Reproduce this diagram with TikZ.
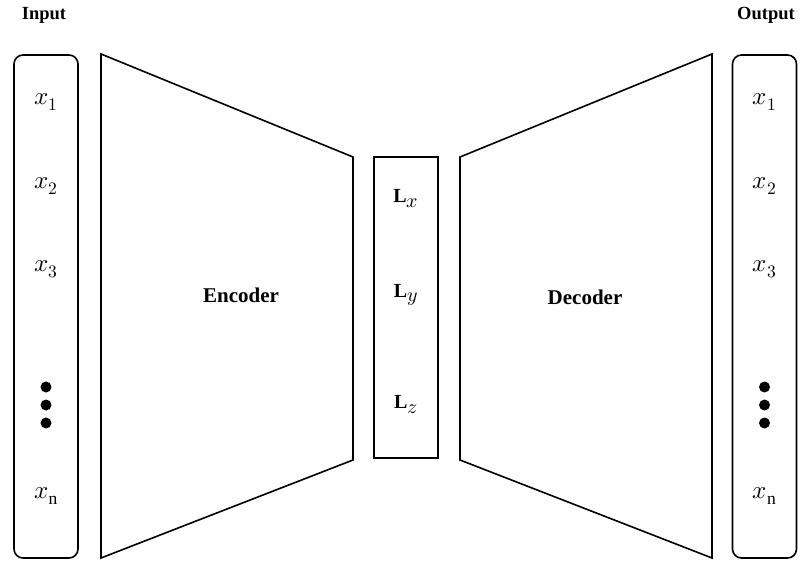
\documentclass[tikz,border=0pt]{standalone}
\usepackage{amsmath}
\usepackage{unicode-math}
\setmainfont{Liberation Serif}
\setmathfont{Latin Modern Math}
\usepackage{tikz}
\usetikzlibrary{positioning, calc}

\tikzset{
  colbox/.style={draw, line width=1.6pt, rounded corners=9pt, minimum width=64pt, minimum height=503pt, inner sep=0pt},
  latbox/.style={draw, line width=1.6pt, minimum width=64pt, minimum height=301pt, inner sep=0pt},
  funnel/.style={draw, line width=1.6pt, line join=miter},
  headlab/.style={font=\fontsize{18.5}{22}\selectfont\bfseries},
  blocklab/.style={font=\fontsize{21}{24}\selectfont\bfseries},
  varlab/.style={font=\fontsize{25}{30}\selectfont},
  latlab/.style={font=\fontsize{20}{24}\selectfont}
}

\begin{document}
\begin{tikzpicture}[x=1pt, y=-1pt]
\useasboundingbox (0,0) rectangle (802,561);

% Input and output columns
\node[colbox] (inbox) at (46,306.5) {};
\node[colbox] (outbox) at (764.5,306.5) {};
\node[headlab] (inlab) at (44,15) {Input};
\node[headlab] (outlab) at (766,15) {Output};
\foreach \c in {46,764.5} {
  \node[varlab] at (\c,102) {$x_1$};
  \node[varlab] at (\c,186) {$x_2$};
  \node[varlab] at (\c,269) {$x_3$};
  \node[varlab] at (\c,496) {$x_{\mathrm{n}}$};
  \foreach \y in {387,405,423}
    \fill (\c,\y) circle (5.5pt);
}

% Encoder and decoder
\draw[funnel] (101,54) -- (353,157) -- (353,460) -- (101,558) -- cycle;
\draw[funnel] (712,54) -- (460,157) -- (460,460) -- (712,558) -- cycle;
\node[blocklab] (enc) at (241,295) {Encoder};
\node[blocklab] (dec) at (585,297) {Decoder};

% Latent space
\node[latbox] (lat) at (406,307.5) {};
\node[latlab] (lx) at (406,199) {$\mathbf{L}_{\textstyle x}$};
\node[latlab] (ly) at (406,295) {$\mathbf{L}_{\textstyle y}$};
\node[latlab] (lz) at (406,405) {$\mathbf{L}_{\textstyle z}$};

\end{tikzpicture}
\end{document}
